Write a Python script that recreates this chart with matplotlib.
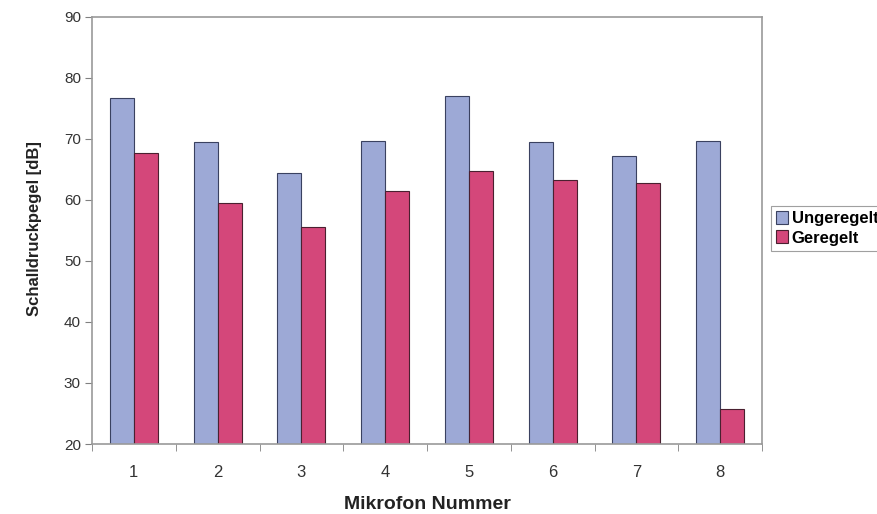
import numpy as np
import matplotlib.pyplot as plt
from matplotlib.ticker import FixedLocator, NullFormatter

# Data
mikrofone = ['1', '2', '3', '4', '5', '6', '7', '8']
ungeregelt = [76.6, 69.4, 64.3, 69.6, 77.0, 69.4, 67.2, 69.6]
geregelt = [67.6, 59.4, 55.5, 61.5, 64.7, 63.3, 62.7, 25.8]

plt.rcParams['font.family'] = ['Liberation Sans', 'DejaVu Sans']

fig = plt.figure(figsize=(8.78, 5.14), dpi=100)
ax = fig.add_axes([92/878, 1-444/514, (762-92)/878, (444-16.5)/514])

x = np.arange(len(mikrofone))
w = 0.2857
ax.bar(x - w/2, ungeregelt, w, color='#9DA9D6', edgecolor='#3a4160', linewidth=0.8, label='Ungeregelt')
ax.bar(x + w/2, geregelt, w, color='#D4477A', edgecolor='#4a2030', linewidth=0.8, label='Geregelt')

ax.set_xlim(-0.5, len(mikrofone) - 0.5)
ax.set_ylim(20, 90)
ax.set_yticks(range(20, 91, 10))

# category labels centred, tick marks between categories
ax.set_xticks(x)
ax.set_xticklabels(mikrofone)
ax.tick_params(axis='x', which='major', length=0, pad=15, labelsize=12, labelcolor='#333333')
ax.xaxis.set_minor_locator(FixedLocator(np.arange(-0.5, len(mikrofone), 1.0)))
ax.xaxis.set_minor_formatter(NullFormatter())
ax.tick_params(axis='x', which='minor', length=5, direction='out', color='#808080')
ax.tick_params(axis='y', length=5, direction='out', color='#808080', labelsize=11, labelcolor='#333333', pad=3)

for s in ax.spines.values():
    s.set_color('#9a9a9a')
    s.set_linewidth(1.2)

ax.set_xlabel('Mikrofon Nummer', fontsize=14, fontweight='bold', color='#222222')
ax.xaxis.set_label_coords(427/878, 1-496/514, transform=fig.transFigure)
ax.set_ylabel('Schalldruckpegel [dB]', fontsize=12, fontweight='bold', color='#222222')
ax.yaxis.set_label_coords(42/878, 1-229/514, transform=fig.transFigure)

leg = ax.legend(loc='upper left', bbox_to_anchor=(771/878, 1-206/514), bbox_transform=fig.transFigure,
                frameon=True, fancybox=False, edgecolor='#888888',
                prop={'weight': 'bold', 'size': 12}, handlelength=0.7, handleheight=0.8,
                handletextpad=0.25, borderpad=0.3, labelspacing=0.25, borderaxespad=0)
leg.get_frame().set_linewidth(0.8)

fig.savefig('out.png', dpi=100)
